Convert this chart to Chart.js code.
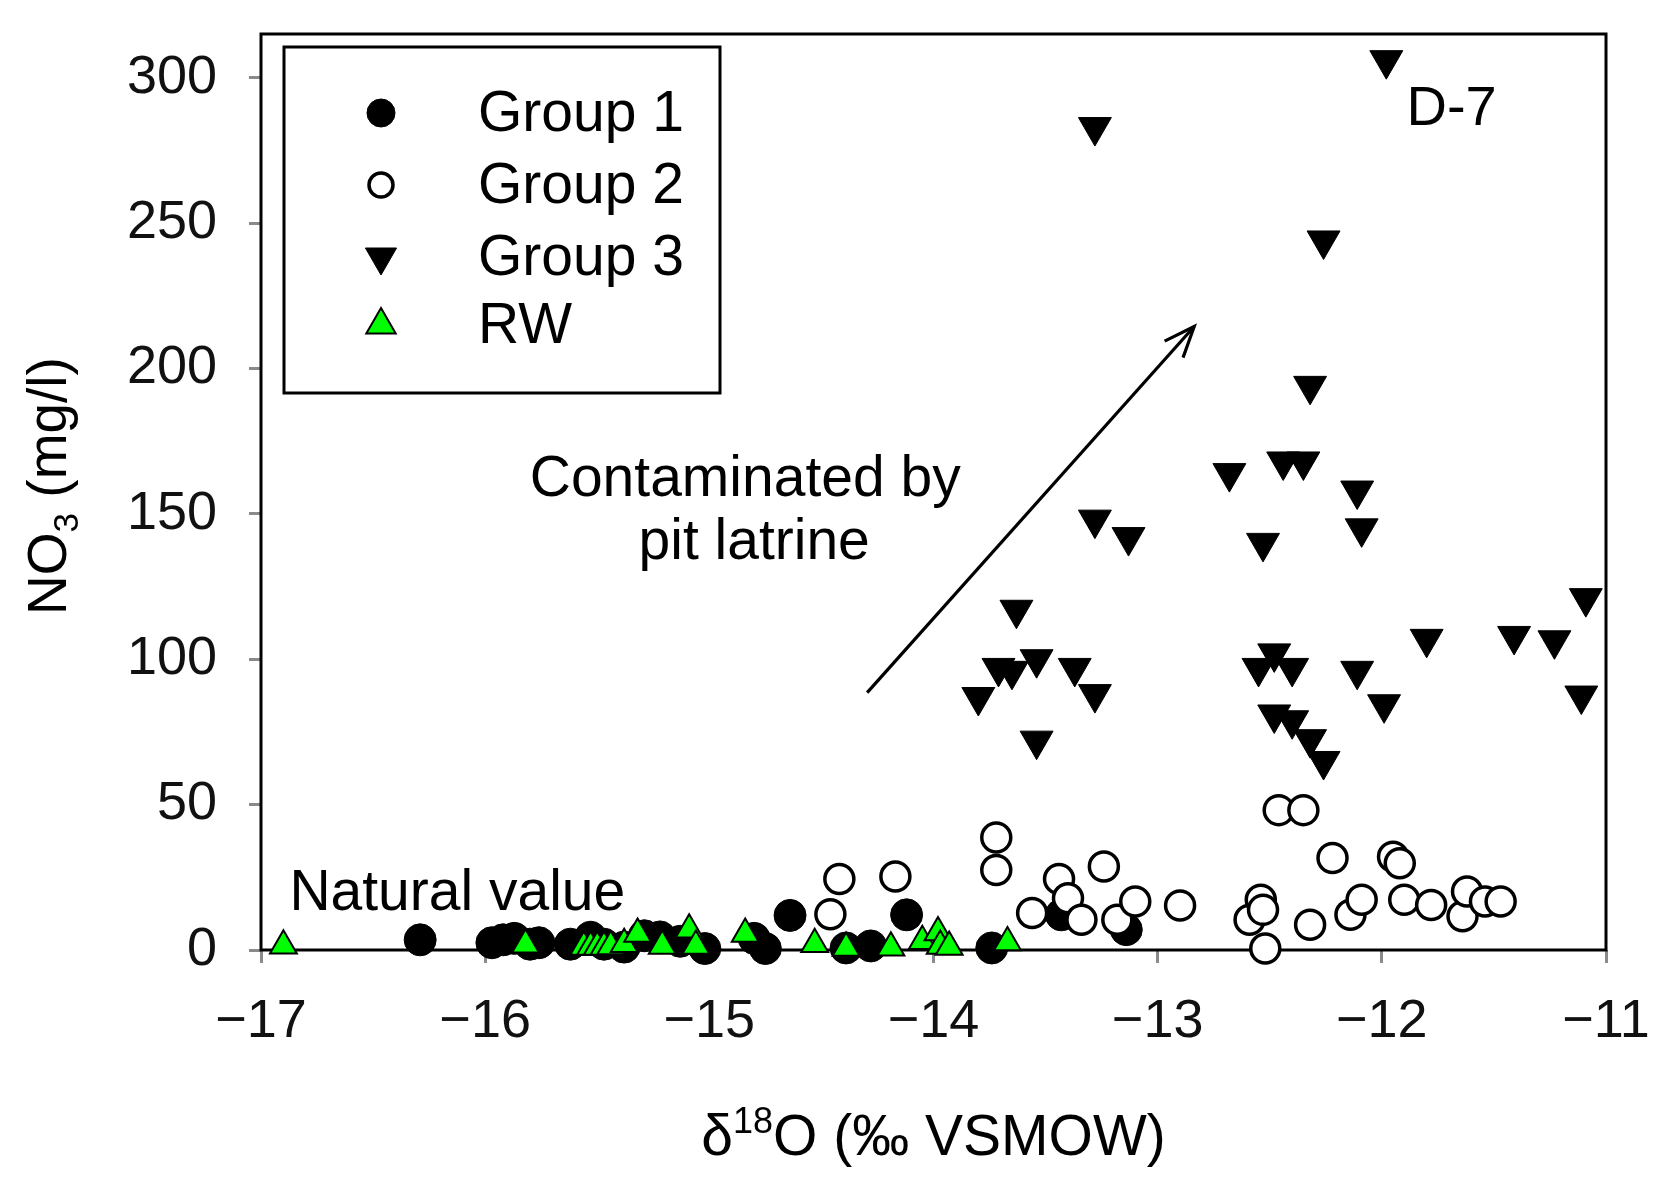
<!DOCTYPE html>
<html><head><meta charset="utf-8">
<script src="https://cdn.jsdelivr.net/npm/chart.js@4.4.1/dist/chart.umd.min.js"></script>
<style>html,body{margin:0;padding:0;background:#fff;} #wrap{width:1659px;height:1194px;position:relative;}</style>
</head><body><div id="wrap"><canvas id="c"></canvas></div>
<script>
const FONT = '"Liberation Sans", Arial, sans-serif';
const xTicks = [-17, -16, -15, -14, -13, -12, -11];
const yTicks = [0, 50, 100, 150, 200, 250, 300];

const group1X = [-16.29,-15.97,-15.92,-15.87,-15.80,-15.76,-15.62,-15.53,-15.47,-15.38,-15.29,-15.22,-15.13,-15.02,-14.80,-14.75,-14.64,-14.39,-14.28,-14.12,-13.74,-13.43,-13.14];
const group1Y = [3.5,2.5,3.5,4,2,2.5,2,4.4,2,1,4.9,4.5,3,0.5,4,0.5,11.9,0.7,1.4,12.1,0.7,12.1,7.0];

const group2X = [-14.46,-14.42,-14.17,-13.72,-13.72,-13.56,-13.44,-13.40,-13.34,-13.24,-13.18,-13.10,-12.90,-12.59,-12.54,-12.53,-12.52,-12.46,-12.35,-12.32,-12.22,-12.14,-12.09,-11.95,-11.92,-11.90,-11.78,-11.64,-11.62,-11.54,-11.47];
const group2Y = [12.3,24.4,25.3,38.7,27.5,12.7,24.4,17.8,10.4,28.7,10.4,16.7,15.3,10.4,17.3,13.8,0.5,48.1,48.1,8.7,31.6,12.1,17.3,32.1,29.8,17.3,15.5,11.6,20.1,16.7,16.7];

const group3X = [-11.98,-13.28,-12.26,-12.32,-12.68,-12.44,-12.35,-12.11,-12.09,-12.53,-13.28,-13.13,-13.63,-13.80,-13.71,-13.65,-13.54,-13.37,-13.28,-13.54,-12.48,-12.55,-12.40,-12.48,-12.40,-12.32,-12.26,-12.11,-11.99,-11.80,-11.41,-11.23,-11.09,-11.11];
const group3Y = [306,283,244,194,164,168,168,158,145,140,148,142,117,87,97,96,100,97,88,72,102,97,97,81,79,72.5,65,96,84.5,107,108,106.5,121,87.5];

const rwX = [-16.90,-15.82,-15.56,-15.53,-15.50,-15.47,-15.44,-15.38,-15.32,-15.21,-15.09,-15.06,-14.84,-14.53,-14.39,-14.19,-14.05,-13.98,-13.97,-13.93,-13.67];
const rwY = [1.5,1.8,1,1,1,1,1.2,2,5.5,1.4,7,1.4,5.5,2,0.7,0.8,3,6,1.4,1,2.6];

const seriesNames = ['Group 1', 'Group 2', 'Group 3', 'RW'];

// annotations in data coordinates
const naturalLabel = {text: 'Natural value', x: -16.86, y: 13.7};
const contamLabel = [{text: 'Contaminated by', x: -14.84, y: 156}, {text: 'pit latrine', x: -14.80, y: 134.5}];
const d7Label = {text: 'D-7', x: -11.89, y: 283.7};
const arrowFrom = {x: -14.296, y: 88.5};
const arrowTo = {x: -12.837, y: 214.4};

const pts = (xs, ys) => xs.map((x, i) => ({x: x, y: ys[i]}));

const styles = [
  {pointStyle: 'circle', pointRadius: 16, backgroundColor: '#000', borderColor: '#000', borderWidth: 1, rotation: 0, legendR: 14},
  {pointStyle: 'circle', pointRadius: 14.5, backgroundColor: '#fff', borderColor: '#000', borderWidth: 3.5, rotation: 0, legendR: 12},
  {pointStyle: 'triangle', pointRadius: 19, backgroundColor: '#000', borderColor: '#000', borderWidth: 1, rotation: 180, legendR: 18},
  {pointStyle: 'triangle', pointRadius: 15.5, backgroundColor: '#00ff00', borderColor: '#000', borderWidth: 2, rotation: 0, legendR: 17}
];
const allData = [pts(group1X, group1Y), pts(group2X, group2Y), pts(group3X, group3Y), pts(rwX, rwY)];
const drawOrder = [3, 2, 1, 0];

const datasets = allData.map((d, i) => ({
  label: seriesNames[i],
  data: d,
  pointStyle: styles[i].pointStyle,
  pointRadius: styles[i].pointRadius,
  pointHoverRadius: styles[i].pointRadius,
  pointRotation: styles[i].rotation,
  backgroundColor: styles[i].backgroundColor,
  borderColor: styles[i].borderColor,
  pointBorderWidth: styles[i].borderWidth,
  borderWidth: styles[i].borderWidth,
  showLine: false,
  clip: false,
  order: drawOrder[i]
}));

function drawArrow(ctx, x1, y1, x2, y2) {
  ctx.beginPath(); ctx.moveTo(x1, y1); ctx.lineTo(x2, y2); ctx.stroke();
  const ang = Math.atan2(y1 - y2, x1 - x2);
  const L = 33, sp = 22 * Math.PI / 180;
  ctx.beginPath();
  ctx.moveTo(x2 + L * Math.cos(ang + sp), y2 + L * Math.sin(ang + sp));
  ctx.lineTo(x2, y2);
  ctx.lineTo(x2 + L * Math.cos(ang - sp), y2 + L * Math.sin(ang - sp));
  ctx.stroke();
}

function zeroPad(s) { s.paddingTop = 0; s.paddingBottom = 0; s.paddingLeft = 0; s.paddingRight = 0; }

const decor = {
  id: 'decor',
  beforeDatasetsDraw(chart) {
    const {ctx, chartArea: a} = chart;
    ctx.save();
    ctx.strokeStyle = '#000'; ctx.lineWidth = 3;
    ctx.strokeRect(a.left, a.top, a.right - a.left, a.bottom - a.top);
    ctx.restore();
  },
  afterDraw(chart) {
    const {ctx, chartArea: a, scales} = chart;
    const X = v => scales.x.getPixelForValue(v), Y = v => scales.y.getPixelForValue(v);
    ctx.save();
    ctx.fillStyle = '#000'; ctx.strokeStyle = '#000';
    // legend
    const bx = a.left + 23, by = a.top + 13, bw = 436, bh = 346;
    ctx.lineWidth = 3;
    ctx.fillStyle = '#fff'; ctx.fillRect(bx, by, bw, bh);
    ctx.strokeRect(bx, by, bw, bh);
    const rows = [66, 138, 210, 278];
    ctx.font = '57px ' + FONT; ctx.textBaseline = 'middle'; ctx.textAlign = 'left';
    for (let i = 0; i < 4; i++) {
      const st = styles[i];
      const cy = by + rows[i];
      ctx.fillStyle = st.backgroundColor; ctx.strokeStyle = st.borderColor; ctx.lineWidth = st.borderWidth;
      Chart.helpers.drawPoint(ctx, {pointStyle: st.pointStyle, radius: st.legendR, rotation: st.rotation, borderWidth: st.borderWidth}, bx + 97, cy);
      ctx.fillStyle = '#000';
      ctx.fillText(seriesNames[i], bx + 194, cy + 2);
    }
    // annotations
    ctx.fillStyle = '#000'; ctx.textBaseline = 'alphabetic';
    ctx.font = '57px ' + FONT; ctx.textAlign = 'left';
    ctx.fillText(naturalLabel.text, X(naturalLabel.x) - 3, Y(naturalLabel.y));
    ctx.textAlign = 'center';
    contamLabel.forEach(l => ctx.fillText(l.text, X(l.x), Y(l.y)));
    ctx.textAlign = 'left'; ctx.font = '56px ' + FONT;
    ctx.fillText(d7Label.text, X(d7Label.x), Y(d7Label.y));
    ctx.strokeStyle = '#000'; ctx.lineWidth = 3.2;
    drawArrow(ctx, X(arrowFrom.x), Y(arrowFrom.y), X(arrowTo.x), Y(arrowTo.y));
    // x title
    const big = '57px ' + FONT, small = '36px ' + FONT;
    const parts = [['\u03b4', big, 0], ['18', small, -22], ['O (\u2030 VSMOW)', big, 0]];
    let tw = 0;
    parts.forEach(p => { ctx.font = p[1]; tw += ctx.measureText(p[0]).width; });
    let cx = (a.left + a.right) / 2 - tw / 2;
    const baseY = 1155;
    ctx.textAlign = 'left';
    parts.forEach(p => { ctx.font = p[1]; ctx.fillText(p[0], cx, baseY + p[2]); cx += ctx.measureText(p[0]).width; });
    // y title
    const ybig = '55px ' + FONT, ysmall = '35px ' + FONT;
    const yparts = [['NO', ybig, 0], ['3', ysmall, 12], [' (mg/l)', ybig, 0]];
    let th = 0;
    yparts.forEach(p => { ctx.font = p[1]; th += ctx.measureText(p[0]).width; });
    ctx.translate(66, (a.top + a.bottom) / 2 - 6);
    ctx.rotate(-Math.PI / 2);
    let cxx = -th / 2;
    yparts.forEach(p => { ctx.font = p[1]; ctx.fillText(p[0], cxx, p[2]); cxx += ctx.measureText(p[0]).width; });
    ctx.restore();
  }
};

new Chart(document.getElementById('c'), {
  type: 'scatter',
  data: {datasets: datasets},
  plugins: [decor],
  options: {
    responsive: true,
    maintainAspectRatio: false,
    devicePixelRatio: 1,
    animation: false,
    layout: {padding: {left: 0, right: 53, top: 34, bottom: 0}},
    plugins: {legend: {display: false}, tooltip: {enabled: false}},
    scales: {
      x: {
        type: 'linear', min: -17, max: -11,
        afterBuildTicks: s => { s.ticks = xTicks.map(v => ({value: v})); },
        afterFit: s => { s.height = 244; zeroPad(s); },
        border: {display: false},
        grid: {drawOnChartArea: false, drawTicks: true, tickLength: 13, color: '#8a8a8a', lineWidth: 3},
        ticks: {padding: 27, color: '#111', font: {family: FONT, size: 54},
          callback: v => (v < 0 ? '\u2212' + Math.abs(v) : String(v)), maxRotation: 0, autoSkip: false}
      },
      y: {
        type: 'linear', min: 0, max: 315,
        afterBuildTicks: s => { s.ticks = yTicks.map(v => ({value: v})); },
        afterFit: s => { s.width = 261; zeroPad(s); },
        border: {display: false},
        grid: {drawOnChartArea: false, drawTicks: true, tickLength: 12, color: '#8a8a8a', lineWidth: 3},
        ticks: {padding: 32, color: '#111', font: {family: FONT, size: 54}, autoSkip: false}
      }
    }
  }
});
</script>
</body></html>
